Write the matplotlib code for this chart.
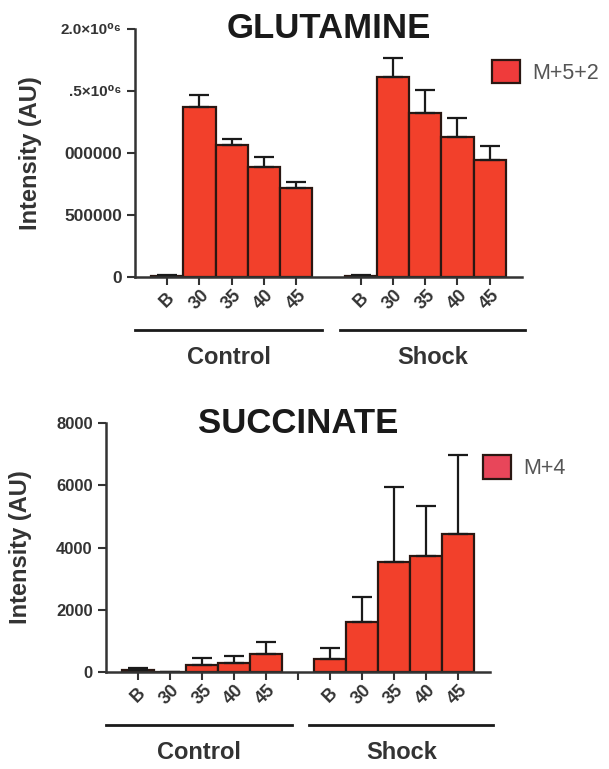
import matplotlib
matplotlib.use("Agg")

import matplotlib.pyplot as plt
from matplotlib.patches import Patch

plt.rcParams["font.family"] = ["Liberation Sans", "DejaVu Sans"]

# time points within each group
labels = ["B", "30", "35", "40", "45"]
groups = ["Control", "Shock"]

# GLUTAMINE, M+5+2 (intensity)
glut_control = [8000, 1368000, 1061000, 891000, 721000]
glut_control_err = [6000, 98000, 49000, 73000, 49000]
glut_shock = [12000, 1611000, 1320000, 1126000, 947000]
glut_shock_err = [6000, 154000, 186000, 154000, 113000]
glut_ticks = [0, 500000, 1000000, 1500000, 2000000]
glut_ticklabels = ["0", "500000", "000000", ".5\u00d710\u2070\u2076", "2.0\u00d710\u2070\u2076"]

# SUCCINATE, M+4 (intensity)
succ_control = [70, 0, 220, 290, 580]
succ_control_err = [60, 0, 230, 225, 380]
succ_shock = [420, 1610, 3540, 3730, 4440]
succ_shock_err = [360, 800, 2410, 1610, 2540]
succ_ticks = [0, 2000, 4000, 6000, 8000]

BAR = "#f2402b"
EDGE = "#2a1712"
INK = "#333333"

fig = plt.figure(figsize=(6.09, 7.69), dpi=100)
ax1 = fig.add_axes([0.2217, 0.6398, 0.6353, 0.3225])
ax2 = fig.add_axes([0.1741, 0.1261, 0.6305, 0.3238])

xpos = [0, 1, 2, 3, 4, 6, 7, 8, 9, 10]


def draw_panel(ax, ctrl, ctrl_err, shock, shock_err, ymax, ticks, ticklabels,
               title, legend_label, legend_color, extra_tick):
    vals = ctrl + shock
    errs = ctrl_err + shock_err
    ax.bar(xpos, vals, width=1.0, color=BAR, edgecolor=EDGE, linewidth=1.6)
    ax.errorbar(xpos, vals, yerr=[[0] * len(errs), errs], fmt="none",
                ecolor="#1a1a1a", elinewidth=1.6, capsize=7, capthick=1.6)
    ax.set_xlim(-1, 11)
    ax.set_ylim(0, ymax)
    for s in ["top", "right"]:
        ax.spines[s].set_visible(False)
    for s in ["left", "bottom"]:
        ax.spines[s].set_linewidth(1.8)
        ax.spines[s].set_color(INK)
    xt = list(xpos) + ([5] if extra_tick else [])
    ax.set_xticks(xt)
    ax.set_xticklabels(labels + labels + ([""] if extra_tick else []),
                       rotation=45, rotation_mode="anchor", ha="center", va="center",
                       fontweight="bold", fontsize=13, color=INK)
    ax.set_yticks(ticks)
    ax.set_yticklabels(ticklabels, fontweight="bold", color=INK)
    ax.tick_params(axis="both", direction="out", length=6, width=1.5, color=INK)
    ax.tick_params(axis="x", pad=10.5)
    ax.set_ylabel("Intensity (AU)", fontsize=17, fontweight="bold", color=INK)
    ax.text(0.5, 1.0, title, transform=ax.transAxes, ha="center", va="center",
            fontsize=25, fontweight="bold", color="#1a1a1a")
    tr = ax.get_xaxis_transform()
    for (x0, x1), name in zip([(-1.0, 4.8), (5.35, 11.1)], groups):
        ax.plot([x0, x1], [-0.214, -0.214], transform=tr, clip_on=False,
                color="#1a1a1a", linewidth=2)
        ax.text((x0 + x1) / 2, -0.325, name, transform=tr, ha="center",
                va="center", fontsize=17, fontweight="bold", color=INK)
    return Patch(facecolor=legend_color, edgecolor=EDGE, linewidth=1.6,
                 label=legend_label)


h1 = draw_panel(ax1, glut_control, glut_control_err, glut_shock, glut_shock_err,
                2000000, glut_ticks, glut_ticklabels, "GLUTAMINE", "M+5+2",
                "#ef3b3b", False)
for lab in ax1.get_yticklabels():
    lab.set_fontsize(12.5 if "\u00d7" not in lab.get_text() else 11)
ax1.yaxis.set_label_coords(-0.24, 0.5)

h2 = draw_panel(ax2, succ_control, succ_control_err, succ_shock, succ_shock_err,
                8000, succ_ticks, [str(t) for t in succ_ticks], "SUCCINATE", "M+4",
                "#e8465a", True)
for lab in ax2.get_yticklabels():
    lab.set_fontsize(12)
ax2.yaxis.set_label_coords(-0.193, 0.5)

for h, anchor in [(h1, (0.808, 0.922)), (h2, (0.793, 0.408))]:
    fig.legend(handles=[h], loc="upper left", bbox_to_anchor=anchor,
               frameon=False, borderpad=0, borderaxespad=0, fontsize=15.5,
               handlelength=1.3, handleheight=1.3, handletextpad=0.55,
               labelcolor="#555555")

fig.savefig("out.png", dpi=100, facecolor="white")
plt.close(fig)
